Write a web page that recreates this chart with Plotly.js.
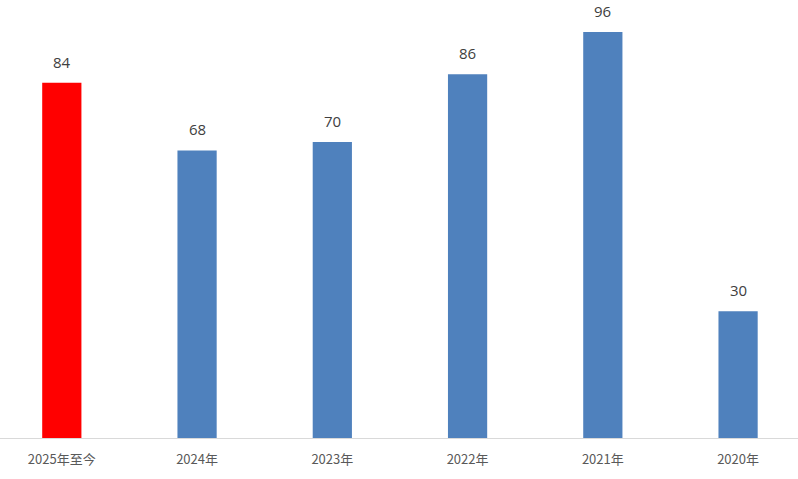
<!DOCTYPE html>
<html>
<head>
<meta charset="utf-8">
<script src="https://cdn.plot.ly/plotly-3.0.1.min.js"></script>
<style>html,body{margin:0;padding:0;background:#fff;}#chart{width:798px;height:479px;}</style>
</head>
<body>
<div id="chart"></div>
<script>
const categories = ["2025年至今", "2024年", "2023年", "2022年", "2021年", "2020年"];
const values = [84, 68, 70, 86, 96, 30];
const barColors = ["#ff0000", "#4f81bd", "#4f81bd", "#4f81bd", "#4f81bd", "#4f81bd"];

const trace = {
  type: "bar",
  x: categories,
  y: values,
  width: 0.29,
  marker: { color: barColors },
  hoverinfo: "none"
};

const annotations = categories.map((c, i) => ({
  x: c, y: values[i], xref: "x", yref: "y",
  text: String(values[i]),
  showarrow: false,
  yanchor: "bottom",
  yshift: 9,
  font: { family: "Open Sans, Liberation Sans, sans-serif", size: 15, color: "#404040" }
}));

const layout = {
  width: 798, height: 479,
  margin: { l: 0, r: 0, t: 0, b: 41 },
  paper_bgcolor: "#ffffff",
  plot_bgcolor: "#ffffff",
  showlegend: false,
  xaxis: {
    range: [-0.457, 5.443],
    showline: true, linecolor: "#d9d9d9", linewidth: 1,
    showgrid: false, zeroline: false,
    ticks: "",
    ticklabelstandoff: 9,
    tickfont: { family: "Noto Sans CJK SC, sans-serif", size: 13, color: "#595959" },
    fixedrange: true
  },
  yaxis: {
    range: [0, 103.57],
    visible: false, showgrid: false, zeroline: false, fixedrange: true
  },
  annotations: annotations
};

Plotly.newPlot("chart", [trace], layout, { displayModeBar: false, staticPlot: true });
</script>
</body>
</html>
